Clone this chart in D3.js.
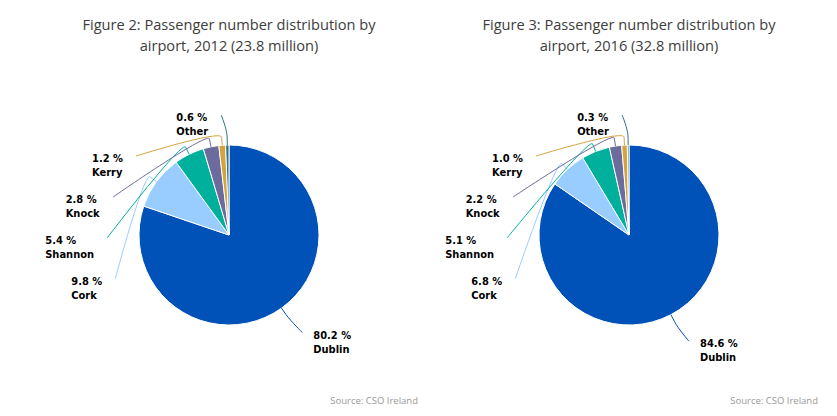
<!DOCTYPE html>
<html lang="en">
<head>
<meta charset="utf-8">
<title>Passenger number distribution by airport</title>
<script src="https://d3js.org/d3.v7.min.js"></script>
<style>
  body { margin: 0; background: #fff; }
  .titulo { font: 14.6px "Open Sans", sans-serif; fill: #3d3d3d; text-anchor: middle; }
  .rotulo { font: bold 11px "DejaVu Sans Condensed", "DejaVu Sans", sans-serif; fill: #000; }
  .fonte { font: 9.5px "Open Sans", sans-serif; fill: #999; text-anchor: end; }
</style>
</head>
<body>
<div id="chart"></div>
<script>
"use strict";

// dados
var airports = ["Dublin", "Cork", "Shannon", "Knock", "Kerry", "Other"];
var share2012 = [80.2, 9.8, 5.4, 2.8, 1.2, 0.6];
var share2016 = [84.6, 6.8, 5.1, 2.2, 1.0, 0.3];
var titles2012 = ["Figure 2: Passenger number distribution by", "airport, 2012 (23.8 million)"];
var titles2016 = ["Figure 3: Passenger number distribution by", "airport, 2016 (32.8 million)"];
var sourceText = "Source: CSO Ireland";

var cores = d3.scaleOrdinal()
  .domain(airports)
  .range(["#0052b8", "#99ccff", "#00b09c", "#6b6b9e", "#d4a33f", "#2b7680"]);

var svg = d3.select("#chart").append("svg")
  .attr("width", 837).attr("height", 416);

function desenhaPizza(valores, titulos, offsetX) {
  var cx = offsetX + 229, cy = 235, r = 90;
  var rY = 120, rX = 122, passo = 41;   // distancia dos rotulos

  var g = svg.append("g");

  g.selectAll("text.titulo")
    .data(titulos).enter()
    .append("text")
      .attr("class", "titulo")
      .attr("x", cx)
      .attr("y", (d, i) => 30 + i * 21)
      .text(d => d);

  var dados = airports.map((a, i) => ({ nome: a, v: valores[i] }));
  var pie = d3.pie().sort(null).value(d => d.v);
  var arcos = pie(dados);
  var arc = d3.arc().innerRadius(0).outerRadius(r);

  var pizza = g.append("g").attr("transform", "translate(" + cx + "," + cy + ")");
  pizza.selectAll("path")
    .data(arcos).enter()
    .append("path")
      .attr("d", arc)
      .attr("fill", d => cores(d.data.nome))
      .attr("stroke", "#fff")
      .attr("stroke-width", 1);

  // posicoes dos rotulos (parecido com o highcharts)
  arcos.forEach(d => {
    d.meio = (d.startAngle + d.endAngle) / 2;
    d.esquerda = d.meio > Math.PI;
    d.ly = cy - rY * Math.cos(d.meio);
    d.toca = { x: cx + r * Math.sin(d.meio), y: cy - r * Math.cos(d.meio) };
    d.quebra = { x: cx + (r + 8) * Math.sin(d.meio), y: cy - (r + 8) * Math.cos(d.meio) };
  });
  var esq = arcos.filter(d => d.esquerda).sort((a, b) => b.meio - a.meio);
  for (var i = 1; i < esq.length; i++) {
    esq[i].ly = Math.max(esq[i].ly, esq[i - 1].ly + passo);
  }
  arcos.forEach(d => {
    var dy = d.ly - cy;
    var dx = Math.sqrt(Math.max(0, rX * rX - dy * dy));
    d.lx = d.esquerda ? cx - dx : cx + dx;
    if (Math.abs(dy) > 0.95 * rY) d.lx = d.quebra.x + (d.esquerda ? -6 : 6);
  });

  g.selectAll("path.conector")
    .data(arcos).enter()
    .append("path")
      .attr("class", "conector")
      .attr("fill", "none")
      .attr("stroke", d => cores(d.data.nome))
      .attr("stroke-width", 1)
      .attr("d", d => {
        var L = [d.lx, d.ly], B = d.quebra, T = d.toca;
        return "M" + L + "C" + L + " " + (2 * B.x - T.x) + "," + (2 * B.y - T.y) +
          " " + B.x + "," + B.y + "L" + T.x + "," + T.y;
      });

  var rotulos = g.selectAll("g.rotulo")
    .data(arcos).enter()
    .append("g");

  rotulos.each(function (d) {
    var t = d3.select(this).append("text").attr("class", "rotulo");
    t.append("tspan").attr("x", 0).attr("y", 0).text(d3.format(".1f")(d.data.v) + " %");
    t.append("tspan").attr("x", 0).attr("y", 14).text(d.data.nome);
    var w = t.node().getBBox().width;
    var x0 = d.esquerda ? d.lx - 13 - w : d.lx + 11;
    d3.select(this).attr("transform", "translate(" + x0 + "," + (d.ly + 6) + ")");
  });

  g.append("text")
    .attr("class", "fonte")
    .attr("x", offsetX + 418)
    .attr("y", 404)
    .text(sourceText);
}

desenhaPizza(share2012, titles2012, 0);
desenhaPizza(share2016, titles2016, 400);
</script>
</body>
</html>
